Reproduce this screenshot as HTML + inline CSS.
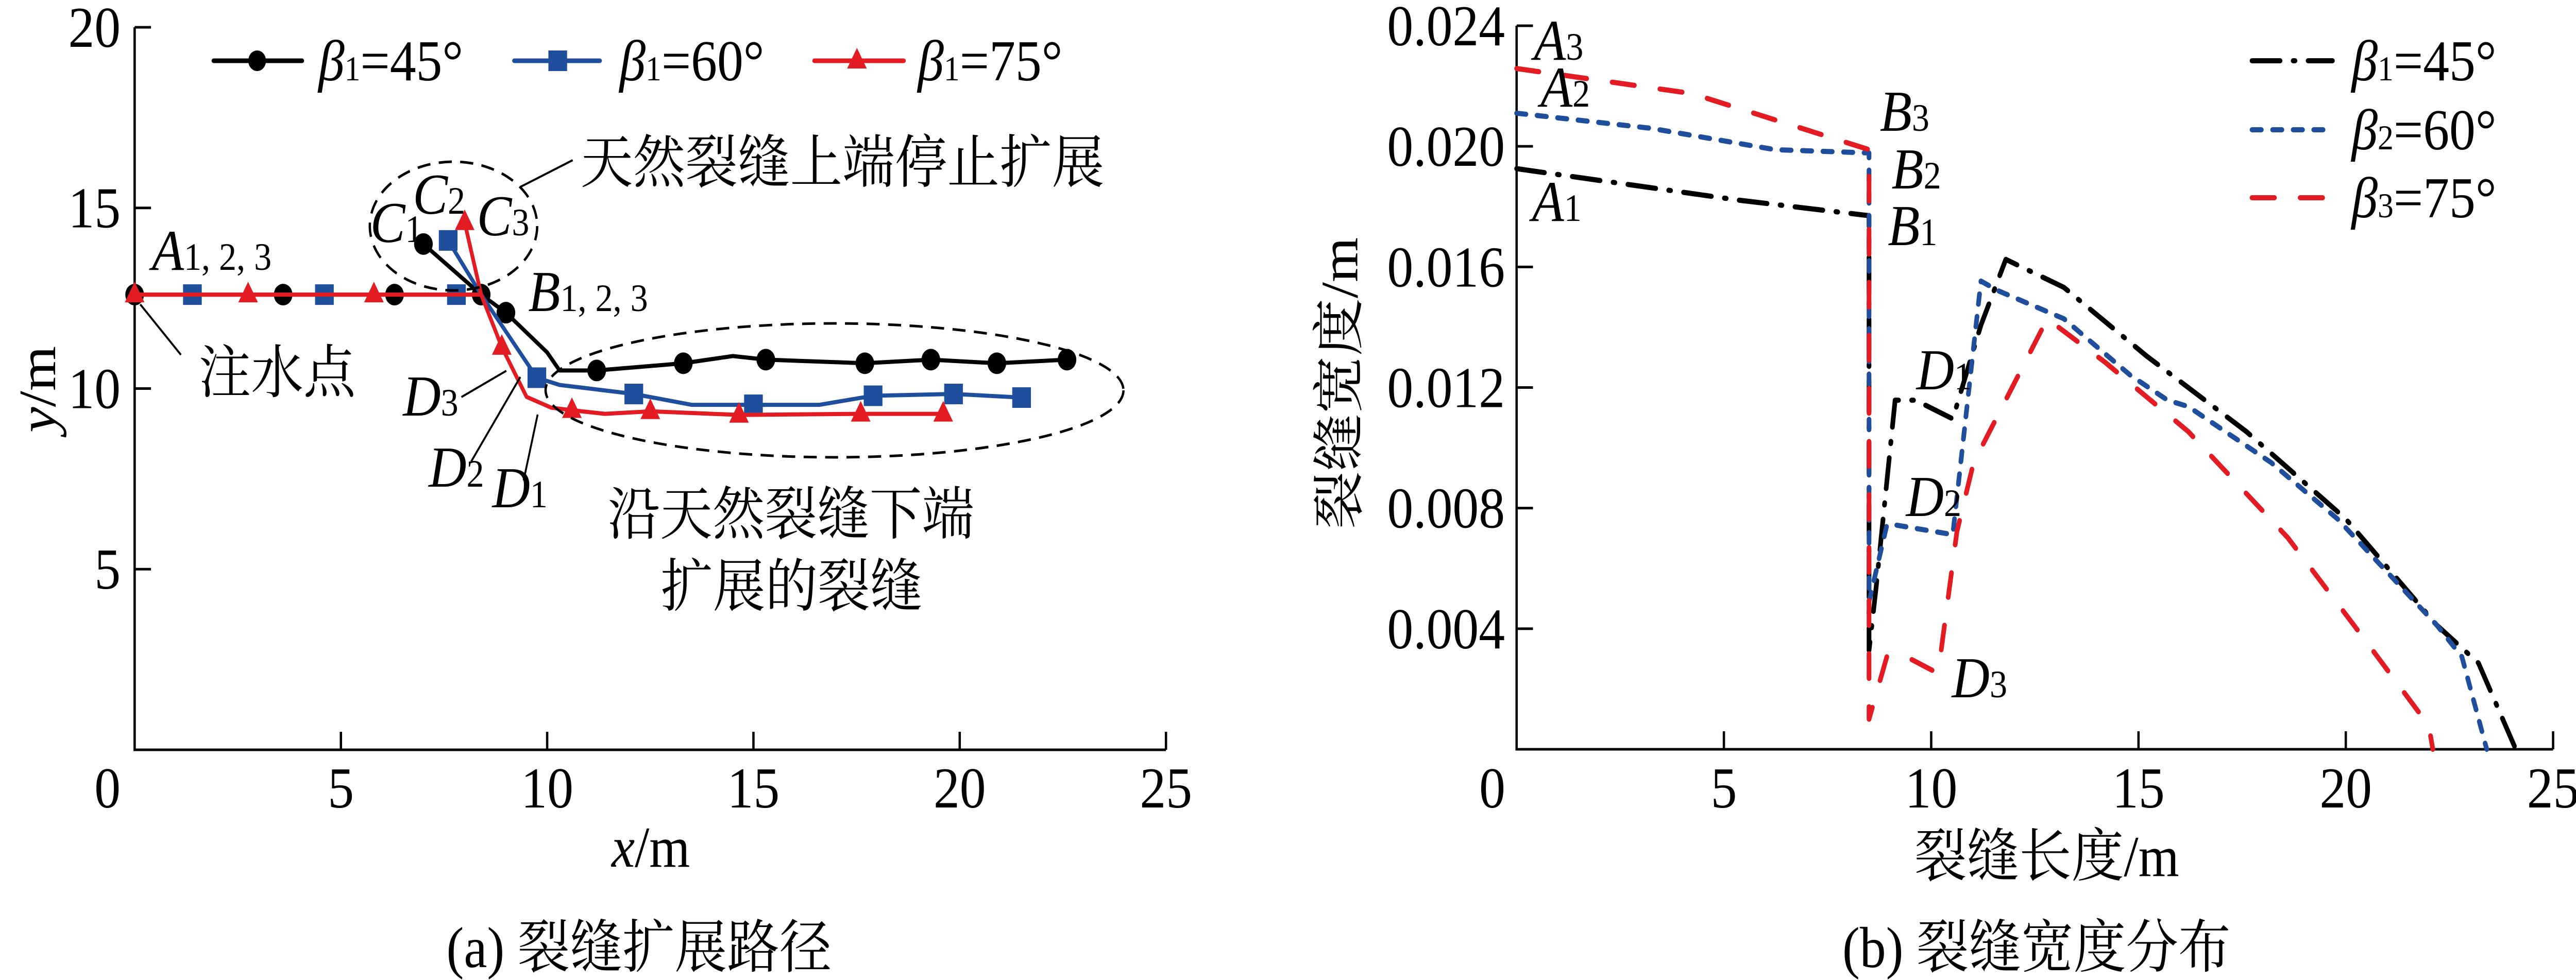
<!DOCTYPE html>
<html><head><meta charset="utf-8"><title>Crack propagation path and width distribution</title>
<style>
html,body{margin:0;padding:0;background:#fff;width:100%;height:100%;overflow:hidden;}
svg{display:block;width:100vw;height:100vh;}
text{font-family:"Liberation Serif","Noto Serif CJK SC",serif;fill:#000;}
.cjk{font-family:"Liberation Serif","Noto Serif CJK SC","Noto Sans CJK SC",serif;}
</style></head>
<body>
<svg id="fig" xmlns="http://www.w3.org/2000/svg" viewBox="0 0 5510 1903" preserveAspectRatio="none">
<g id="left"></g>
<g id="right"></g>
 <g>
  <g>
   <line x1="457" y1="118" x2="646" y2="118" stroke="#000" stroke-width="9" stroke-linecap="round"/>
   <ellipse cx="550" cy="118" rx="19" ry="20" fill="#000"/>
   <text x="681" y="156" font-size="112"><tspan font-style="italic">β</tspan><tspan font-size="68">1</tspan><tspan>=45°</tspan></text>
  </g>
  <g>
   <line x1="1100" y1="118" x2="1283" y2="118" stroke="#1f4e9c" stroke-width="9" stroke-linecap="round"/>
   <rect x="1173" y="98" width="40" height="40" fill="#1f4e9c"/>
   <text x="1325" y="156" font-size="112"><tspan font-style="italic">β</tspan><tspan font-size="68">1</tspan><tspan>=60°</tspan></text>
  </g>
  <g>
   <line x1="1742" y1="118" x2="1933" y2="118" stroke="#e31b23" stroke-width="9" stroke-linecap="round"/>
   <polygon points="1833,93 1812,133 1854,133" fill="#e31b23"/>
   <text x="1963" y="156" font-size="112"><tspan font-style="italic">β</tspan><tspan font-size="68">1</tspan><tspan>=75°</tspan></text>
  </g>
 </g>
 <g font-size="112">
  <text x="325" y="524"><tspan font-style="italic">A</tspan><tspan font-size="75">1, 2, 3</tspan></text>
  <text x="792" y="470"><tspan font-style="italic">C</tspan><tspan font-size="75">1</tspan></text>
  <text x="883" y="415"><tspan font-style="italic">C</tspan><tspan font-size="75">2</tspan></text>
  <text x="1020" y="457"><tspan font-style="italic">C</tspan><tspan font-size="75">3</tspan></text>
  <ellipse cx="970" cy="439" rx="179" ry="125" fill="none" stroke="#000" stroke-width="5" stroke-dasharray="28 18"/>
  <line x1="1113" y1="363" x2="1225" y2="311" stroke="#000" stroke-width="4"/>
  <text x="1242" y="354" class="cjk">天然裂缝上端停止扩展</text>
  <text x="1130" y="604"><tspan font-style="italic">B</tspan><tspan font-size="75">1, 2, 3</tspan></text>
  <line x1="300" y1="591" x2="387" y2="689" stroke="#000" stroke-width="4"/>
  <text x="425" y="762" class="cjk">注水点</text>
  <text x="862" y="807"><tspan font-style="italic">D</tspan><tspan font-size="75">3</tspan></text>
  <line x1="987" y1="771" x2="1083" y2="720" stroke="#000" stroke-width="4"/>
  <text x="917" y="945"><tspan font-style="italic">D</tspan><tspan font-size="75">2</tspan></text>
  <line x1="1008" y1="896" x2="1113" y2="732" stroke="#000" stroke-width="4"/>
  <text x="1053" y="985"><tspan font-style="italic">D</tspan><tspan font-size="75">1</tspan></text>
  <line x1="1120" y1="933" x2="1150" y2="805" stroke="#000" stroke-width="4"/>
  <ellipse cx="1785" cy="758" rx="618" ry="130" fill="none" stroke="#000" stroke-width="5" stroke-dasharray="28 18"/>
  <text x="1300" y="1037" class="cjk">沿天然裂缝下端</text>
  <text x="1413" y="1177" class="cjk">扩展的裂缝</text>
  <text x="1392" y="1683" text-anchor="middle"><tspan font-style="italic">x</tspan>/m</text>
  <text transform="translate(118,756) rotate(-90)" text-anchor="middle"><tspan font-style="italic">y</tspan>/m</text>
  <text x="1367" y="1878" text-anchor="middle" class="cjk">(a)  裂缝扩展路径</text>
 </g>
 <g font-size="112">
  <text x="3281" y="116"><tspan font-style="italic">A</tspan><tspan font-size="75">3</tspan></text>
  <text x="3295" y="207"><tspan font-style="italic">A</tspan><tspan font-size="75">2</tspan></text>
  <text x="3277" y="429"><tspan font-style="italic">A</tspan><tspan font-size="75">1</tspan></text>
  <text x="4021" y="254"><tspan font-style="italic">B</tspan><tspan font-size="75">3</tspan></text>
  <text x="4046" y="366"><tspan font-style="italic">B</tspan><tspan font-size="75">2</tspan></text>
  <text x="4038" y="476"><tspan font-style="italic">B</tspan><tspan font-size="75">1</tspan></text>
  <text x="4099" y="756"><tspan font-style="italic">D</tspan><tspan font-size="75">1</tspan></text>
  <text x="4077" y="1002"><tspan font-style="italic">D</tspan><tspan font-size="75">2</tspan></text>
  <text x="4175" y="1354"><tspan font-style="italic">D</tspan><tspan font-size="75">3</tspan></text>
  <g>
   <line x1="4817" y1="118" x2="4989" y2="118" stroke="#000" stroke-width="10" stroke-dasharray="60 28 4 28" stroke-linecap="round"/>
   <text x="5030" y="156"><tspan font-style="italic">β</tspan><tspan font-size="68">1</tspan><tspan>=45°</tspan></text>
   <line x1="4817" y1="252" x2="4989" y2="252" stroke="#1f4e9c" stroke-width="10" stroke-dasharray="20 24" stroke-linecap="round"/>
   <text x="5030" y="290"><tspan font-style="italic">β</tspan><tspan font-size="68">2</tspan><tspan>=60°</tspan></text>
   <line x1="4817" y1="384" x2="4989" y2="384" stroke="#e31b23" stroke-width="10" stroke-dasharray="48 55" stroke-linecap="round"/>
   <text x="5030" y="422"><tspan font-style="italic">β</tspan><tspan font-size="68">3</tspan><tspan>=75°</tspan></text>
  </g>
  <text x="4378" y="1701" text-anchor="middle" class="cjk">裂缝长度/m</text>
  <text transform="translate(2903,744) rotate(-90)" text-anchor="middle" class="cjk">裂缝宽度/m</text>
  <text x="4356" y="1878" text-anchor="middle" class="cjk">(b)  裂缝宽度分布</text>
 </g>
</svg>
<script>
// ---------- Left chart data (crack propagation path) ----------
const xTicksA = [0, 5, 10, 15, 20, 25];
const yTicksA = [5, 10, 15, 20];
const s45TrunkX = [0, 8.4];
const s45TrunkY = [12.6, 12.6];
const s45X = [7.0, 8.4, 9.0, 10.0, 10.3, 11.2, 13.3, 14.5, 15.3, 17.7, 19.3, 20.9, 22.6];
const s45Y = [14.0, 12.6, 12.1, 11.0, 10.5, 10.5, 10.7, 10.9, 10.8, 10.7, 10.8, 10.7, 10.8];
const s45MX = [0, 3.6, 6.3, 7.0, 8.4, 9.0, 11.2, 13.3, 15.3, 17.7, 19.3, 20.9, 22.6];
const s45MY = [12.6, 12.6, 12.6, 14.0, 12.6, 12.1, 10.5, 10.7, 10.8, 10.7, 10.8, 10.7, 10.8];
const s60TrunkX = [0, 8.4];
const s60TrunkY = [12.6, 12.6];
const s60X = [7.6, 8.4, 9.75, 10.3, 12.1, 13.5, 15.0, 16.6, 17.9, 19.85, 21.5];
const s60Y = [14.1, 12.6, 10.3, 10.1, 9.85, 9.55, 9.55, 9.55, 9.8, 9.85, 9.75];
const s60MX = [1.4, 4.6, 7.8, 7.6, 9.75, 12.1, 15.0, 17.9, 19.85, 21.5];
const s60MY = [12.6, 12.6, 12.6, 14.1, 10.3, 9.85, 9.55, 9.8, 9.85, 9.75];
const s75TrunkX = [0, 8.4];
const s75TrunkY = [12.6, 12.6];
const s75X = [8.0, 8.4, 8.9, 9.5, 10.1, 10.6, 11.4, 12.5, 14.65, 17.6, 19.6];
const s75Y = [14.6, 12.6, 11.15, 9.77, 9.47, 9.4, 9.3, 9.37, 9.27, 9.3, 9.3];
const s75MX = [0, 2.75, 5.8, 8.0, 8.9, 10.6, 12.5, 14.65, 17.6, 19.6];
const s75MY = [12.6, 12.6, 12.6, 14.6, 11.15, 9.4, 9.37, 9.27, 9.3, 9.3];

// ---------- Right chart data (crack width distribution) ----------
const xTicksB = [0, 5, 10, 15, 20, 25];
const yTicksB = [0.004, 0.008, 0.012, 0.016, 0.020, 0.024];
const yTickLabelsB = ["0.004", "0.008", "0.012", "0.016", "0.020", "0.024"];
const w45X = [0, 5.33, 8.5, 8.5, 8.67, 9.13, 9.62, 10.52, 11.2, 11.8, 13.2, 15.2, 17.6, 20.0, 22.2, 23.2, 24.1];
const w45Y = [0.01926, 0.01822, 0.0177, 0.00328, 0.00536, 0.01158, 0.01158, 0.01096, 0.01407, 0.01625, 0.01532, 0.01304, 0.01054, 0.00764, 0.00411, 0.00286, 0.0];
const w60X = [0, 3.23, 6.23, 8.5, 8.5, 8.93, 9.1, 10.52, 11.2, 11.6, 13.2, 14.8, 15.7, 16.2, 18.2, 19.8, 22.2, 22.8, 23.4];
const w60Y = [0.0211, 0.0206, 0.01989, 0.01978, 0.0049, 0.00743, 0.00745, 0.00712, 0.01553, 0.01522, 0.01428, 0.01241, 0.01158, 0.01137, 0.00951, 0.00764, 0.00411, 0.00307, 0.0];
const w75X = [0, 4.23, 8.5, 8.5, 8.93, 9.4, 10.12, 10.22, 10.62, 11.02, 12.8, 14.2, 16.2, 18.6, 20.2, 22.0, 22.1];
const w75Y = [0.02258, 0.02175, 0.01989, 0.001, 0.00307, 0.00307, 0.00255, 0.00307, 0.00722, 0.0095, 0.01428, 0.01283, 0.01054, 0.00702, 0.00411, 0.00079, 0.0];

const NS = "http://www.w3.org/2000/svg";
function mk(parent, tag, attrs) {
  const e = document.createElementNS(NS, tag);
  for (const k in attrs) e.setAttribute(k, attrs[k]);
  parent.appendChild(e);
  return e;
}
const AX = { x0: 288, x1: 2494, y0: 1456, y1: 53, xmax: 25, ymax: 20 };
const BX = { x0: 3244, x1: 5461, y0: 1455, y1: 50, xmax: 25, ymax: 0.024 };
function xa(v) { return AX.x0 + (AX.x1 - AX.x0) * v / AX.xmax; }
function ya(v) { return AX.y0 - (AX.y0 - AX.y1) * v / AX.ymax; }
function xb(v) { return BX.x0 + (BX.x1 - BX.x0) * v / BX.xmax; }
function yb(v) { return BX.y0 - (BX.y0 - BX.y1) * v / BX.ymax; }
function pts(xs, ys, fx, fy) { return xs.map((x, i) => fx(x).toFixed(1) + "," + fy(ys[i]).toFixed(1)).join(" "); }

const L = document.getElementById("left");
const R = document.getElementById("right");
let e;
e = mk(L, "polyline", { points: `${AX.x0},${AX.y1} ${AX.x0},${AX.y0} ${AX.x1},${AX.y0}`, fill: "none", stroke: "#000", "stroke-width": 5 });


xTicksA.forEach(t => {
  if (t > 0) {
    const tk = mk(L, "line", { x1: xa(t), x2: xa(t), y1: AX.y0, y2: AX.y0 - 35, stroke: "#000", "stroke-width": 5 });
    
    
  }
  const lb = mk(L, "text", { x: t === 0 ? 230 : xa(t), y: 1568, "font-size": 112, "text-anchor": "middle" });
  lb.textContent = String(t);
  
  
});
yTicksA.forEach(t => {
  const tk = mk(L, "line", { x1: AX.x0, x2: AX.x0 + 35, y1: ya(t), y2: ya(t), stroke: "#000", "stroke-width": 5 });
  
  
  const lb = mk(L, "text", { x: 258, y: ya(t) + 38, "font-size": 112, "text-anchor": "end" });
  lb.textContent = String(t);
  
  
});

function markerA(g, kind, cx, cy, color) {
  if (kind === "circle") return mk(g, "ellipse", { cx, cy, rx: 20, ry: 21, fill: color });
  if (kind === "square") return mk(g, "rect", { x: cx - 20, y: cy - 20, width: 40, height: 40, fill: color });
  return mk(g, "polygon", { points: `${cx},${cy - 25} ${cx - 21},${cy + 15} ${cx + 21},${cy + 15}`, fill: color });
}
function seriesA(name, color, kind, tx, ty, bx, by, mxs, mys) {
  const g = mk(L, "g", {});
  
  
  const t = mk(g, "polyline", { points: pts(tx, ty, xa, ya), fill: "none", stroke: color, "stroke-width": 8, "stroke-linejoin": "round" });
  
  
  const b = mk(g, "polyline", { points: pts(bx, by, xa, ya), fill: "none", stroke: color, "stroke-width": 8, "stroke-linejoin": "round" });
  
  
  mxs.forEach((x, i) => {
    const m = markerA(g, kind, xa(x), ya(mys[i]), color);
    
    
  });
}
seriesA("series-beta-45", "#000000", "circle", s45TrunkX, s45TrunkY, s45X, s45Y, s45MX, s45MY);
seriesA("series-beta-60", "#1f4e9c", "square", s60TrunkX, s60TrunkY, s60X, s60Y, s60MX, s60MY);
seriesA("series-beta-75", "#e31b23", "triangle", s75TrunkX, s75TrunkY, s75X, s75Y, s75MX, s75MY);

e = mk(R, "polyline", { points: `${BX.x0},${BX.y1} ${BX.x0},${BX.y0} ${BX.x1},${BX.y0}`, fill: "none", stroke: "#000", "stroke-width": 5 });


xTicksB.forEach(t => {
  if (t > 0) {
    const tk = mk(R, "line", { x1: xb(t), x2: xb(t), y1: BX.y0, y2: BX.y0 - 35, stroke: "#000", "stroke-width": 5 });
    
    
  }
  const lb = mk(R, "text", { x: t === 0 ? 3192 : xb(t), y: 1568, "font-size": 112, "text-anchor": "middle" });
  lb.textContent = String(t);
  
  
});
yTicksB.forEach((t, i) => {
  const tk = mk(R, "line", { x1: BX.x0, x2: BX.x0 + 35, y1: yb(t), y2: yb(t), stroke: "#000", "stroke-width": 5 });
  
  
  const lb = mk(R, "text", { x: 3219, y: yb(t) + 38, "font-size": 112, "text-anchor": "end" });
  lb.textContent = yTickLabelsB[i];
  
  
});

function seriesB(name, color, dash, xs, ys) {
  const p = mk(R, "polyline", { points: pts(xs, ys, xb, yb), fill: "none", stroke: color, "stroke-width": 10, "stroke-dasharray": dash, "stroke-linecap": "round", "stroke-linejoin": "round" });
  
  
}
seriesB("width-beta-45", "#000000", "60 28 4 28", w45X, w45Y);
seriesB("width-beta-60", "#1f4e9c", "20 24", w60X, w60Y);
seriesB("width-beta-75", "#e31b23", "48 55", w75X, w75Y);
</script>
</body></html>
